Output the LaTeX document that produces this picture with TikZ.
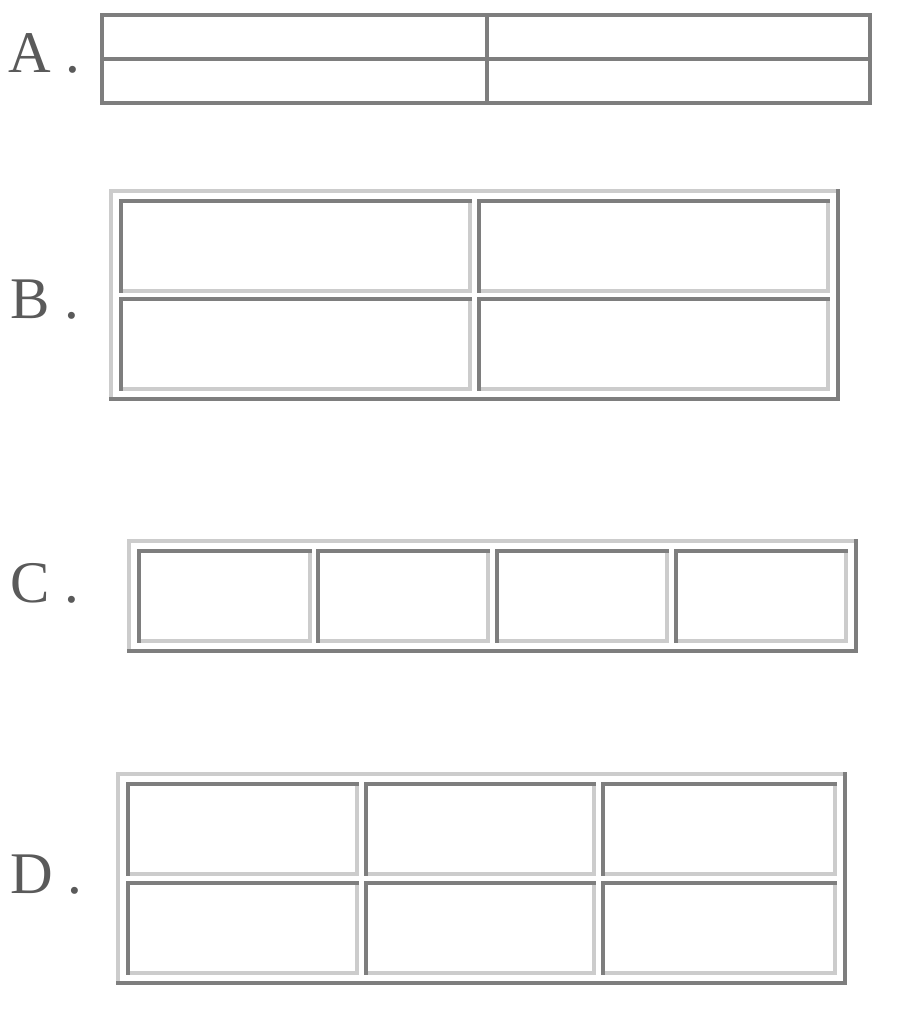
\documentclass[tikz,border=0pt]{standalone}
\usepackage{fontspec}
\setmainfont{Liberation Serif}
\usepackage{tikz}

\definecolor{framedark}{HTML}{7E7E7E}
\definecolor{framelight}{HTML}{CCCCCC}
\definecolor{labelgray}{HTML}{5A5A5A}

\tikzset{
  darkedge/.style={color=framedark, line width=3.2pt, line cap=rect},
  lightedge/.style={color=framelight, line width=3.2pt, line cap=rect},
  optlabel/.style={anchor=base west, inner sep=0pt, text=labelgray,
    font=\fontsize{59}{62}\selectfont}
}

\begin{document}
\begin{tikzpicture}[x=1pt, y=-1pt]
      \useasboundingbox (0,0) rectangle (919,1024);

      % labels
      \node[optlabel] (labA) at (8,73) {A .};
      \node[optlabel] (labB) at (10,318) {B .};
      \node[optlabel] (labC) at (10,602) {C .};
      \node[optlabel] (labD) at (10,893) {D .};

      % A: plain frame with cross
      \draw[darkedge] (102,15) rectangle (870,103);
      \draw[darkedge] (102,59) -- (870,59);
      \draw[darkedge] (487,15) -- (487,103);

      % B: frame with 2x2 panes
      \draw[lightedge] (111,399) -- (111,191) -- (838,191);
      \draw[darkedge] (111,399) -- (838,399) -- (838,191);
      \foreach \xa/\xb in {121/470, 479/828}
        \foreach \ya/\yb in {201/291, 299/389} {
          \draw[lightedge] (\xa,\yb) -- (\xb,\yb) -- (\xb,\ya);
          \draw[darkedge] (\xa,\yb) -- (\xa,\ya) -- (\xb,\ya);
        }

      % C: frame with 4 panes in a row
      \draw[lightedge] (129,651) -- (129,541) -- (856,541);
      \draw[darkedge] (129,651) -- (856,651) -- (856,541);
      \foreach \xa/\xb in {139/310, 318/488, 497/667, 676/846} {
          \draw[lightedge] (\xa,641) -- (\xb,641) -- (\xb,551);
          \draw[darkedge] (\xa,641) -- (\xa,551) -- (\xb,551);
        }

      % D: frame with 3x2 panes
      \draw[lightedge] (118,983) -- (118,774) -- (845,774);
      \draw[darkedge] (118,983) -- (845,983) -- (845,774);
      \foreach \xa/\xb in {128/357, 366/594, 603/835}
        \foreach \ya/\yb in {784/874, 883/973} {
          \draw[lightedge] (\xa,\yb) -- (\xb,\yb) -- (\xb,\ya);
          \draw[darkedge] (\xa,\yb) -- (\xa,\ya) -- (\xb,\ya);
        }

\end{tikzpicture}
\end{document}
